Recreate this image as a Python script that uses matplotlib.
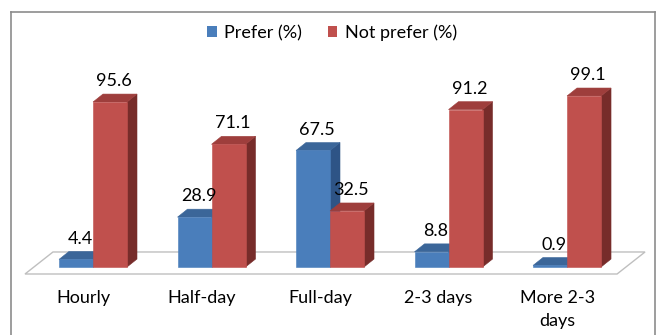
import matplotlib.pyplot as plt
from matplotlib.patches import Polygon, Patch
from matplotlib.lines import Line2D

plt.rcParams['font.family'] = ['Lato', 'DejaVu Sans']

# Survey data
categories = ['Hourly', 'Half-day', 'Full-day', '2-3 days', 'More 2-3\ndays']
prefer = [4.4, 28.9, 67.5, 8.8, 0.9]
not_prefer = [95.6, 71.1, 32.5, 91.2, 99.1]

# colours: front, top, side
blue = ('#4A7EBB', '#3B6699', '#2E5486')
red = ('#C0504D', '#9E3E3C', '#772C2A')

bar_w = 0.287     # bar width in category units
dx, dy = 0.084, 4.6   # fake depth offset (x in categories, y in %)
fs = 13

fig = plt.figure(figsize=(6.57, 3.35), dpi=100)
ax = fig.add_axes([0, 0, 1, 1])
ax.set_xlim(-0.785, 4.759)
ax.set_ylim(-39.4, 154.7)
ax.axis('off')


def bar3d(x0, h, cols):
    """Draw one pseudo-3D column with its left front corner at x0."""
    x1 = x0 + bar_w
    front = [(x0, 0), (x1, 0), (x1, h), (x0, h)]
    top = [(x0, h), (x1, h), (x1 + dx, h + dy), (x0 + dx, h + dy)]
    side = [(x1, 0), (x1 + dx, dy), (x1 + dx, h + dy), (x1, h)]
    for pts, c in ((side, cols[2]), (top, cols[1]), (front, cols[0])):
        ax.add_patch(Polygon(pts, closed=True, facecolor=c, edgecolor=c,
                             linewidth=0.4, zorder=3))


# floor
n = len(categories)
floor = [(-0.574, -4.06), (n - 1 + 0.422, -4.06),
         (n - 1 + 0.658, 8.7), (-0.338, 8.7)]
ax.add_patch(Polygon(floor, closed=True, facecolor='white',
                     edgecolor='#BFBFBF', linewidth=1.0, zorder=1))

for i in range(n):
    bar3d(i - bar_w, prefer[i], blue)
    bar3d(i, not_prefer[i], red)
    ax.text(i - bar_w / 2 + dx * 0.4, prefer[i] + dy + 7.5, f'{prefer[i]}',
            ha='center', va='center', fontsize=fs, zorder=4)
    ax.text(i + bar_w / 2 + dx * 0.4, not_prefer[i] + dy + 7.5,
            f'{not_prefer[i]}', ha='center', va='center', fontsize=fs, zorder=4)
    ax.text(i - dx, -13.3, categories[i], ha='center', va='top',
            fontsize=fs, linespacing=1.55)

# chart border (bottom edge runs off the image)
edge = '#8C8C8C'
W, H = 657, 335
fx = lambda p: p / W
fy = lambda p: 1 - p / H
for xs, ys in (([11, 11], [12, 340]), ([11, 655], [12, 12]), ([655, 655], [12, 340])):
    fig.add_artist(Line2D([fx(v) for v in xs], [fy(v) for v in ys],
                          color=edge, linewidth=1.2))

handles = [Patch(facecolor=blue[0], label='Prefer (%)'),
           Patch(facecolor=red[0], label='Not prefer (%)')]
fig.legend(handles=handles, loc='center', bbox_to_anchor=(fx(332), fy(33)),
           ncol=2, frameon=False, fontsize=fs, handlelength=0.55,
           handleheight=0.55, handletextpad=0.4, columnspacing=1.4)

fig.savefig('out.png', dpi=100)
